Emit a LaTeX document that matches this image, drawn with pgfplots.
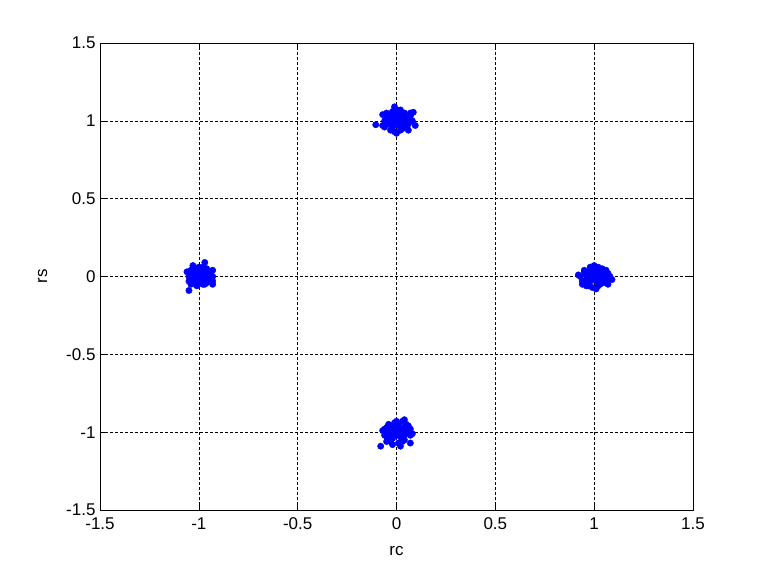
\documentclass[border=0pt]{standalone}
\usepackage{fontspec}
\setmainfont{Liberation Sans}
\usepackage{pgfplots}
\pgfplotsset{compat=1.18}
\begin{document}
\begin{tikzpicture}
\begin{axis}[name=ax, scale only axis, width=593pt, height=467pt,
  xmin=-1.5, xmax=1.5, ymin=-1.5, ymax=1.5,
  xtick={-1.5,-1,-0.5,0,0.5,1,1.5}, ytick={-1.5,-1,-0.5,0,0.5,1,1.5},
  xticklabels={-1.5,-1,-0.5,0,0.5,1,1.5}, yticklabels={-1.5,-1,-0.5,0,0.5,1,1.5},
  grid=major, grid style={densely dashed, black, line width=0.5pt},
  tick align=inside, major tick length=5pt, tick style={black, line width=0.6pt},
  axis line style={black, line width=0.8pt},
  xlabel={rc}, ylabel={rs},
  font=\fontsize{17}{19}\selectfont,
  tick label style={font=\fontsize{17}{19}\selectfont},
  label style={font=\fontsize{17}{19}\selectfont},
  xticklabel style={yshift=-4pt},
  yticklabel style={xshift=-1pt},
  xlabel style={yshift=-10pt},
  ylabel style={yshift=12pt},
]
\addplot[only marks, mark=*, mark size=3.2pt, blue, mark options={draw=blue, fill=blue}] coordinates {
(0.01,1.02) (-0.03,1.01) (0.04,0.98) (-0.02,0.96) (0.02,1.05) (-0.05,1.03) (0.06,1.01) (0.00,0.99) (-0.01,1.04) (0.03,1.03) (-0.04,0.98) (0.05,0.96) (-0.06,1.00) (0.02,0.94) (-0.02,1.06) (0.07,1.03) (-0.03,0.94) (0.01,0.97) (0.04,1.05) (-0.07,0.97) (0.00,1.07) (0.06,0.98) (-0.05,1.05) (0.03,0.95) (-0.01,0.93) (0.02,1.00) (-0.03,1.03) (0.05,1.02) (-0.02,0.99) (0.01,1.05) (0.08,1.00) (-0.04,1.01) (0.00,1.03) (0.03,0.99) (-0.01,1.00) (0.04,1.01) (-0.06,0.96) (0.02,1.07) (0.07,1.05) (-0.02,0.97) (-0.105,0.975) (0.095,0.97) (0.085,1.055) (-0.01,1.09) (0.00,0.92) (0.06,0.94) (-0.07,1.04)
(-0.99,0.01) (-1.02,0.03) (-0.96,-0.01) (-1.03,-0.03) (-0.98,0.04) (-1.04,0.02) (-0.95,0.02) (-1.00,-0.02) (-1.01,0.05) (-0.97,0.03) (-1.03,-0.01) (-0.96,-0.04) (-1.05,0.00) (-0.98,-0.05) (-1.02,0.05) (-0.94,0.03) (-1.02,-0.05) (-0.99,-0.03) (-0.96,0.05) (-1.05,-0.03) (-1.00,0.06) (-0.94,-0.02) (-1.04,0.04) (-0.97,-0.05) (-1.01,-0.06) (-0.98,0.00) (-1.02,0.01) (-0.95,0.01) (-1.01,-0.01) (-0.99,0.03) (-0.93,0.00) (-1.04,-0.05) (-1.00,0.02) (-0.97,-0.02) (-1.00,0.00) (-0.96,0.01) (-0.93,-0.03) (-0.98,0.06) (-0.93,0.04) (-1.01,-0.03) (-1.05,-0.09) (-0.97,0.09) (-1.06,0.03) (-0.93,-0.05) (-1.03,0.07)
(1.01,0.02) (0.98,0.01) (1.04,-0.02) (0.97,-0.04) (1.02,0.04) (0.95,0.03) (1.06,0.01) (1.00,-0.01) (0.99,0.05) (1.03,0.03) (0.96,-0.02) (1.05,-0.04) (0.93,0.00) (1.02,-0.06) (0.98,0.06) (1.07,0.02) (0.97,-0.06) (1.01,-0.03) (1.04,0.05) (0.94,-0.03) (1.00,0.07) (1.06,-0.02) (0.95,0.04) (1.03,-0.05) (0.99,-0.07) (1.02,0.00) (0.97,0.03) (1.05,0.02) (0.98,-0.01) (1.01,0.05) (1.08,0.00) (0.96,0.01) (1.00,0.03) (1.03,-0.01) (0.99,0.00) (1.04,0.01) (0.94,-0.05) (1.02,0.06) (1.06,0.04) (0.98,-0.03) (1.09,-0.02) (0.92,0.01) (1.07,-0.05) (0.96,-0.06) (1.01,-0.08)
(0.02,-1.01) (-0.02,-0.98) (0.03,-1.04) (-0.03,-1.02) (0.01,-0.96) (-0.04,-0.99) (0.05,-1.00) (0.00,-1.02) (-0.01,-0.97) (0.04,-0.97) (-0.05,-1.03) (0.03,-1.06) (-0.06,-0.98) (0.01,-1.07) (-0.01,-0.94) (0.06,-0.96) (-0.03,-1.06) (0.02,-1.03) (0.05,-0.95) (-0.06,-1.02) (0.00,-0.93) (0.07,-1.02) (-0.04,-0.95) (0.04,-1.05) (-0.02,-1.08) (0.02,-0.99) (-0.03,-0.96) (0.06,-0.99) (-0.01,-1.01) (0.01,-0.95) (0.08,-1.01) (-0.05,-0.97) (0.00,-0.98) (0.03,-1.01) (-0.01,-1.00) (0.04,-1.02) (-0.05,-1.06) (0.03,-0.93) (0.07,-0.98) (-0.02,-1.04) (-0.08,-1.09) (0.07,-1.07) (0.04,-0.92) (-0.07,-0.99) (0.02,-1.09)
};
\end{axis}
\path ([shift={(-100pt,-65pt)}]ax.south west) rectangle ([shift={(74pt,43pt)}]ax.north east);
\end{tikzpicture}
\end{document}
